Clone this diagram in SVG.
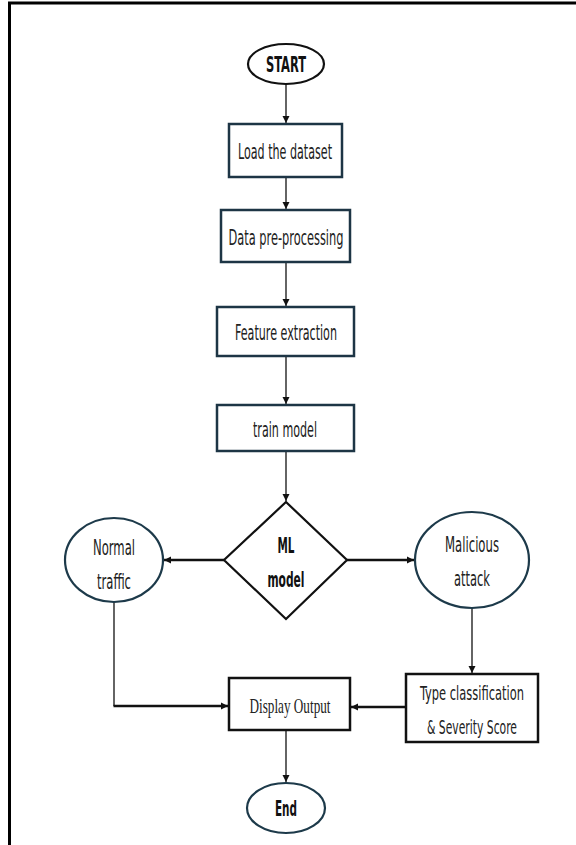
<svg xmlns="http://www.w3.org/2000/svg" width="576" height="845" viewBox="0 0 576 845">
<style>
.bg{fill:#ffffff}
.frame{stroke:#000;stroke-width:3;fill:none}
.box{fill:#fff;stroke:#1d3545;stroke-width:2.5}
.boxk{fill:#fff;stroke:#111;stroke-width:2.5}
.ell{fill:#fff;stroke:#1d3a4a;stroke-width:2.2}
.dia{fill:#fff;stroke:#111;stroke-width:2.2}
.t{font-family:"Liberation Sans Narrow","DejaVu Sans Condensed","Liberation Sans",sans-serif;font-size:21px;fill:#222;text-anchor:middle}
.tt{font-family:"Liberation Sans Narrow","DejaVu Sans Condensed","Liberation Sans",sans-serif;font-size:19px;fill:#222;text-anchor:middle}
.tb{font-family:"Liberation Sans Narrow","DejaVu Sans Condensed","Liberation Sans",sans-serif;font-size:21px;font-weight:bold;fill:#111;text-anchor:middle}
.ts{font-family:"Liberation Serif","Times New Roman",serif;font-size:21px;fill:#222;text-anchor:middle}
.c1{stroke:#111;stroke-width:1.3;fill:none}
.c2{stroke:#111;stroke-width:2.4;fill:none}
</style>
<defs>
<marker id="a1" viewBox="0 0 10 10" refX="10" refY="5" markerWidth="7" markerHeight="9" markerUnits="userSpaceOnUse" orient="auto">
<path d="M0,0 L10,5 L0,10 z" fill="#111"/>
</marker>
</defs>
<rect class="bg" x="0" y="0" width="576" height="845"/>
<path class="frame" d="M9.5,845 L9.5,3 L576,3"/>

<g id="connectors">
<line class="c1" x1="286" y1="84" x2="286" y2="123" marker-end="url(#a1)"/>
<line class="c1" x1="286" y1="177" x2="286" y2="209" marker-end="url(#a1)"/>
<line class="c1" x1="286" y1="262" x2="286" y2="306" marker-end="url(#a1)"/>
<line class="c1" x1="286" y1="356" x2="286" y2="404" marker-end="url(#a1)"/>
<line class="c1" x1="286" y1="451" x2="286" y2="501" marker-end="url(#a1)"/>
<line class="c2" x1="224" y1="560" x2="164" y2="560" marker-end="url(#a1)"/>
<line class="c2" x1="347" y1="560" x2="414" y2="560" marker-end="url(#a1)"/>
<line class="c1" x1="472" y1="608" x2="472" y2="673" marker-end="url(#a1)"/>
<polyline class="c1" points="114,602 114,706"/>
<line class="c2" x1="113.5" y1="706" x2="228" y2="706" marker-end="url(#a1)"/>
<line class="c2" x1="406" y1="707" x2="351" y2="707" marker-end="url(#a1)"/>
<line class="c1" x1="286" y1="730" x2="286" y2="782" marker-end="url(#a1)"/>
</g>

<g id="start">
<ellipse class="ell" cx="286" cy="64" rx="38" ry="20" style="stroke:#111"/>
<text class="tb" x="286" y="72" textLength="40" lengthAdjust="spacingAndGlyphs">START</text>
</g>
<g id="load">
<rect class="box" x="229" y="124" width="113" height="53"/>
<text class="t" x="285" y="159" textLength="94" lengthAdjust="spacingAndGlyphs">Load the dataset</text>
</g>
<g id="preprocess">
<rect class="box" x="221" y="210" width="129" height="52"/>
<text class="t" x="286" y="245" textLength="115" lengthAdjust="spacingAndGlyphs">Data pre-processing</text>
</g>
<g id="feature">
<rect class="box" x="217" y="307" width="137" height="49"/>
<text class="t" x="286" y="340" textLength="102" lengthAdjust="spacingAndGlyphs">Feature extraction</text>
</g>
<g id="train">
<rect class="box" x="217" y="405" width="137" height="46"/>
<text class="t" x="285" y="437" textLength="64" lengthAdjust="spacingAndGlyphs">train model</text>
</g>
<g id="ml">
<polygon class="dia" points="286,502 347,560 286,619 224,560"/>
<text class="tb" x="286" y="553" textLength="17" lengthAdjust="spacingAndGlyphs">ML</text>
<text class="tb" x="286" y="587" textLength="37" lengthAdjust="spacingAndGlyphs">model</text>
</g>
<g id="normal">
<ellipse class="ell" cx="114" cy="560" rx="49" ry="42"/>
<text class="t" x="114" y="555" textLength="42" lengthAdjust="spacingAndGlyphs">Normal</text>
<text class="t" x="114" y="589" textLength="34" lengthAdjust="spacingAndGlyphs">traffic</text>
</g>
<g id="malicious">
<ellipse class="ell" cx="472" cy="560" rx="57" ry="48"/>
<text class="t" x="472" y="552" textLength="54" lengthAdjust="spacingAndGlyphs">Malicious</text>
<text class="t" x="472" y="586" textLength="36" lengthAdjust="spacingAndGlyphs">attack</text>
</g>
<g id="typeclass">
<rect class="boxk" x="406" y="674" width="132" height="68"/>
<text class="tt" x="472" y="700" textLength="104" lengthAdjust="spacingAndGlyphs">Type classification</text>
<text class="tt" x="472" y="734" textLength="90" lengthAdjust="spacingAndGlyphs">&amp; Severity Score</text>
</g>
<g id="display">
<rect class="boxk" x="229" y="678" width="121" height="52"/>
<text class="ts" x="290" y="713" textLength="81" lengthAdjust="spacingAndGlyphs">Display Output</text>
</g>
<g id="end">
<ellipse class="ell" cx="286" cy="808" rx="39" ry="25"/>
<text class="tb" x="286" y="816" textLength="22" lengthAdjust="spacingAndGlyphs">End</text>
</g>
</svg>
